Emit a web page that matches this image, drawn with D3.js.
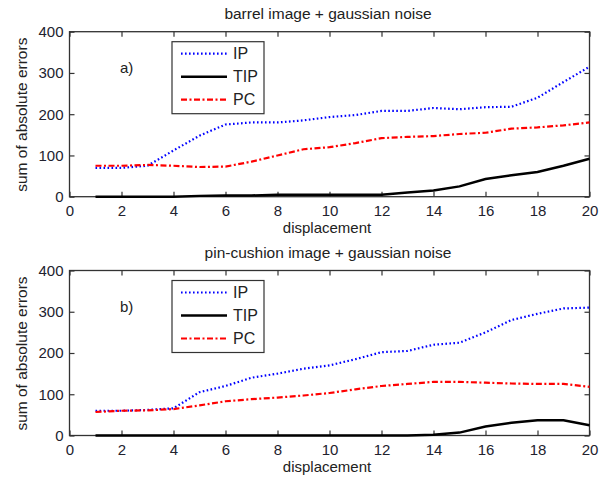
<!DOCTYPE html>
<html>
<head>
<meta charset="utf-8">
<script src="https://cdn.jsdelivr.net/npm/d3@7"></script>
<style>
  body { margin: 0; background: #fff; }
  svg { font-family: Arial, "Liberation Sans", sans-serif; }
  .tick text { fill: #22222e; font-size: 15px; }
  .title, .xlabel, .ylabel { fill: #222; }
</style>
</head>
<body>
<div id="wrapper"></div>
<script>
const displacement = [1, 2, 3, 4, 5, 6, 7, 8, 9, 10, 11, 12, 13, 14, 15, 16, 17, 18, 19, 20]
const xTicks = [0, 2, 4, 6, 8, 10, 12, 14, 16, 18, 20]
const yTicks = [0, 100, 200, 300, 400]
const seriesNames = ["IP", "TIP", "PC"]

// a) barrel image + gaussian noise
const barrelIP = [70, 70, 75, 112, 148, 175, 180, 180, 185, 193, 198, 208, 208, 215, 212, 217, 218, 240, 278, 315]
const barrelTIP = [0, 0, 0, 0, 2, 3, 3, 5, 5, 5, 5, 5, 10, 15, 25, 43, 52, 60, 75, 92]
const barrelPC = [75, 75, 77, 75, 72, 73, 85, 100, 115, 120, 130, 142, 145, 147, 152, 155, 165, 168, 173, 180]

// b) pin-cushion image + gaussian noise
const pinIP = [60, 60, 62, 66, 105, 120, 140, 150, 162, 170, 185, 202, 205, 220, 225, 250, 280, 295, 308, 310]
const pinTIP = [0, 0, 0, 0, 0, 0, 0, 0, 0, 0, 0, 0, 0, 2, 7, 22, 31, 37, 37, 25]
const pinPC = [57, 60, 61, 64, 73, 83, 88, 92, 97, 103, 112, 120, 125, 130, 130, 128, 126, 125, 125, 118]

const styles = {
  IP: { color: "#0000ff", width: 2.2, dash: "1.6,2.4" },
  TIP: { color: "#000000", width: 2.5, dash: null },
  PC: { color: "#ff0000", width: 2.2, dash: "6,2.5,2,2.5" },
}

const width = 608
const height = 481

const wrapper = d3.select("#wrapper")
  .append("svg")
  .attr("width", width)
  .attr("height", height)

const xScale = d3.scaleLinear()
  .domain([0, 20])
  .range([69.5, 589.5])

function drawPanel(top, title, tag, series) {
  const yScale = d3.scaleLinear()
    .domain([0, 400])
    .range([top + 165, top])

  const g = wrapper.append("g")

  // box
  g.append("rect")
    .attr("x", xScale(0))
    .attr("y", top)
    .attr("width", xScale(20) - xScale(0))
    .attr("height", 165)
    .attr("fill", "none")
    .attr("stroke", "#333")
    .attr("stroke-width", 1.3)

  g.append("g")
    .attr("transform", `translate(0,${top + 165})`)
    .call(d3.axisBottom(xScale).tickValues(xTicks).tickSizeInner(-5).tickSizeOuter(0).tickPadding(9))
  g.append("g")
    .attr("transform", `translate(0,${top})`)
    .call(d3.axisTop(xScale).tickValues(xTicks).tickSizeInner(-5).tickSizeOuter(0).tickFormat(""))
  g.append("g")
    .attr("transform", `translate(${xScale(0)},0)`)
    .call(d3.axisLeft(yScale).tickValues(yTicks).tickSizeInner(-5).tickSizeOuter(0).tickPadding(6))
  g.append("g")
    .attr("transform", `translate(${xScale(20)},0)`)
    .call(d3.axisRight(yScale).tickValues(yTicks).tickSizeInner(-5).tickSizeOuter(0).tickFormat(""))

  g.selectAll(".domain").remove()
  g.selectAll(".tick line").attr("stroke", "#333").attr("stroke-width", 1.2)

  g.append("text")
    .attr("class", "title")
    .attr("x", 328)
    .attr("y", top - 13)
    .attr("text-anchor", "middle")
    .style("font-size", "15.5px")
    .text(title)

  g.append("text")
    .attr("class", "xlabel")
    .attr("x", 327)
    .attr("y", top + 201)
    .attr("text-anchor", "middle")
    .style("font-size", "15px")
    .text("displacement")

  g.append("text")
    .attr("class", "ylabel")
    .attr("transform", `translate(27,${top + 83}) rotate(-90)`)
    .attr("text-anchor", "middle")
    .style("font-size", "15.5px")
    .text("sum of absolute errors")

  g.append("text")
    .attr("x", 120)
    .attr("y", top + 41)
    .style("font-size", "15px")
    .attr("fill", "#222")
    .text(tag)

  const lineGenerator = d3.line()
    .x((d, i) => xScale(displacement[i]))
    .y(d => yScale(d))

  seriesNames.forEach(name => {
    const s = styles[name]
    g.append("path")
      .attr("d", lineGenerator(series[name]))
      .attr("fill", "none")
      .attr("stroke", s.color)
      .attr("stroke-width", s.width)
      .attr("stroke-dasharray", s.dash)
  })

  // legend
  const legend = g.append("g")
    .attr("transform", `translate(172,${top + 10})`)
  legend.append("rect")
    .attr("width", 92)
    .attr("height", 72)
    .attr("fill", "#fff")
    .attr("stroke", "#333")
    .attr("stroke-width", 1.2)
  seriesNames.forEach((name, i) => {
    const s = styles[name]
    const y = 12 + i * 23
    legend.append("line")
      .attr("x1", 9).attr("x2", 55)
      .attr("y1", y).attr("y2", y)
      .attr("stroke", s.color)
      .attr("stroke-width", s.width)
      .attr("stroke-dasharray", s.dash)
    legend.append("text")
      .attr("x", 61)
      .attr("y", y)
      .attr("dy", "0.35em")
      .style("font-size", "16px")
      .attr("fill", "#222")
      .text(name)
  })
}

drawPanel(31.7, "barrel image + gaussian noise", "a)",
  { IP: barrelIP, TIP: barrelTIP, PC: barrelPC })
drawPanel(270.5, "pin-cushion image + gaussian noise", "b)",
  { IP: pinIP, TIP: pinTIP, PC: pinPC })
</script>
</body>
</html>
